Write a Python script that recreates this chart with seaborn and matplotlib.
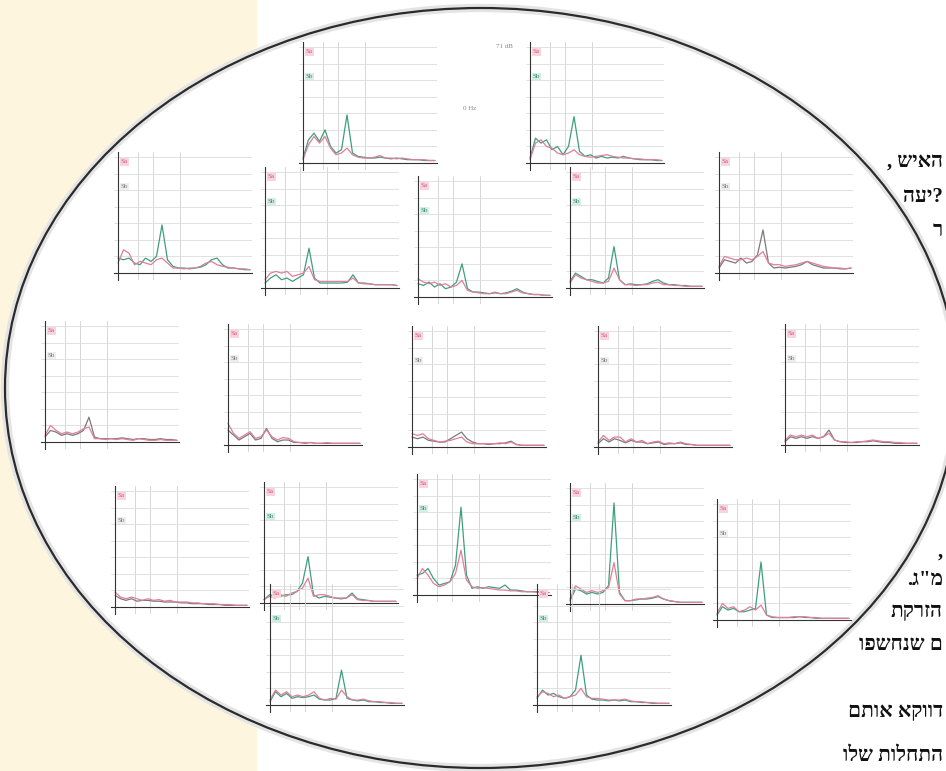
import matplotlib.pyplot as plt
import matplotlib.patches as mpatches
import seaborn as sns

# frequency bins (Hz) shared by all the small spectra
FREQ = [0, 1.25, 2.5, 3.75, 5, 6.25, 7.5, 8.75, 10, 11.25, 12.5, 13.75, 15,
        16.25, 17.5, 18.75, 20, 21.25, 22.5, 23.75, 25, 26.25, 27.5, 28.75, 30]

# one pair of spectra (Sa, Sb) per small chart
A_SA = [0.2, 1.1, 1.6, 1.2, 1.6, 0.9, 0.5, 0.6, 0.9, 0.5, 0.35, 0.3, 0.3, 0.35, 0.45, 0.3, 0.3, 0.25, 0.3, 0.25, 0.2, 0.2, 0.2, 0.15, 0.15]
A_SB = [0.3, 1.4, 1.8, 1.3, 2.0, 1.0, 0.6, 0.8, 2.9, 0.6, 0.4, 0.35, 0.3, 0.3, 0.35, 0.3, 0.25, 0.3, 0.25, 0.2, 0.2, 0.2, 0.15, 0.15, 0.15]
B_SA = [0.2, 1.2, 1.4, 1.0, 0.9, 0.6, 0.5, 0.6, 0.8, 0.5, 0.4, 0.35, 0.4, 0.45, 0.5, 0.4, 0.35, 0.3, 0.3, 0.25, 0.25, 0.2, 0.2, 0.2, 0.15]
B_SB = [0.3, 1.5, 1.2, 1.4, 0.8, 1.0, 0.5, 1.0, 2.8, 0.7, 0.4, 0.5, 0.3, 0.4, 0.3, 0.35, 0.3, 0.4, 0.3, 0.25, 0.2, 0.2, 0.2, 0.15, 0.15]
C_SA = [0.6, 1.4, 1.2, 0.5, 0.7, 0.6, 0.5, 0.8, 0.9, 0.6, 0.3, 0.3, 0.25, 0.3, 0.3, 0.4, 0.6, 0.7, 0.5, 0.4, 0.35, 0.3, 0.25, 0.25, 0.2]
C_SB = [0.9, 0.8, 0.9, 0.6, 0.5, 0.9, 0.7, 1.0, 2.9, 0.8, 0.4, 0.3, 0.3, 0.25, 0.3, 0.35, 0.5, 0.8, 0.9, 0.5, 0.3, 0.3, 0.25, 0.2, 0.2]
D_SA = [0.5, 0.9, 1.0, 0.9, 1.0, 0.7, 0.8, 0.9, 1.3, 0.5, 0.4, 0.4, 0.4, 0.4, 0.4, 0.4, 0.6, 0.3, 0.25, 0.25, 0.2, 0.2, 0.2, 0.2, 0.15]
D_SB = [0.3, 0.6, 0.8, 0.5, 0.6, 0.4, 0.6, 0.8, 2.4, 0.6, 0.3, 0.3, 0.3, 0.3, 0.3, 0.35, 0.8, 0.3, 0.3, 0.25, 0.2, 0.2, 0.2, 0.2, 0.15]
E_SA = [1.1, 0.9, 0.8, 0.9, 0.7, 0.8, 0.6, 0.7, 1.0, 0.4, 0.3, 0.25, 0.2, 0.2, 0.3, 0.2, 0.2, 0.3, 0.4, 0.25, 0.2, 0.15, 0.15, 0.1, 0.1]
E_SB = [0.8, 0.7, 0.9, 0.6, 0.8, 0.5, 0.6, 0.9, 2.0, 0.5, 0.3, 0.3, 0.25, 0.2, 0.25, 0.2, 0.25, 0.35, 0.5, 0.3, 0.2, 0.15, 0.15, 0.1, 0.1]
F_SA = [0.3, 0.8, 0.6, 0.5, 0.4, 0.3, 0.3, 0.4, 1.2, 0.5, 0.2, 0.2, 0.15, 0.2, 0.2, 0.3, 0.35, 0.2, 0.2, 0.15, 0.15, 0.1, 0.1, 0.1, 0.1]
F_SB = [0.4, 0.9, 0.7, 0.5, 0.5, 0.4, 0.3, 0.6, 2.5, 0.5, 0.2, 0.25, 0.2, 0.2, 0.25, 0.4, 0.5, 0.3, 0.2, 0.2, 0.15, 0.15, 0.1, 0.1, 0.1]
G_SA = [0.4, 1.0, 0.9, 0.8, 0.8, 0.9, 0.8, 1.0, 1.3, 0.6, 0.5, 0.5, 0.4, 0.45, 0.5, 0.6, 0.7, 0.6, 0.5, 0.4, 0.35, 0.3, 0.3, 0.25, 0.3]
G_SB = [0.3, 0.8, 0.7, 0.6, 0.9, 0.6, 0.7, 1.1, 2.6, 0.6, 0.3, 0.35, 0.3, 0.35, 0.4, 0.5, 0.7, 0.5, 0.4, 0.3, 0.3, 0.3, 0.25, 0.25, 0.3]
H_SA = [0.4, 1.0, 0.7, 0.5, 0.6, 0.5, 0.6, 0.8, 0.9, 0.2, 0.2, 0.15, 0.2, 0.15, 0.2, 0.15, 0.1, 0.2, 0.15, 0.1, 0.1, 0.15, 0.1, 0.1, 0.1]
H_SB = [0.3, 0.7, 0.6, 0.4, 0.5, 0.4, 0.5, 0.7, 1.5, 0.3, 0.2, 0.2, 0.2, 0.2, 0.25, 0.2, 0.15, 0.2, 0.2, 0.15, 0.15, 0.2, 0.15, 0.15, 0.1]
I_SA = [1.3, 0.7, 0.4, 0.6, 0.8, 0.4, 0.5, 0.9, 0.5, 0.3, 0.45, 0.4, 0.2, 0.15, 0.15, 0.15, 0.1, 0.1, 0.15, 0.1, 0.1, 0.1, 0.1, 0.1, 0.1]
I_SB = [0.9, 0.6, 0.3, 0.5, 0.7, 0.3, 0.4, 1.0, 0.4, 0.2, 0.3, 0.3, 0.15, 0.15, 0.1, 0.15, 0.1, 0.1, 0.1, 0.1, 0.1, 0.1, 0.1, 0.1, 0.1]
J_SA = [0.8, 0.7, 0.8, 0.5, 0.4, 0.3, 0.35, 0.4, 0.5, 0.6, 0.3, 0.2, 0.2, 0.2, 0.2, 0.2, 0.25, 0.2, 0.3, 0.15, 0.1, 0.1, 0.1, 0.1, 0.1]
J_SB = [0.6, 0.5, 0.6, 0.4, 0.35, 0.3, 0.3, 0.5, 0.7, 0.9, 0.5, 0.3, 0.2, 0.2, 0.15, 0.2, 0.2, 0.25, 0.35, 0.15, 0.1, 0.1, 0.1, 0.1, 0.1]
K_SA = [0.3, 0.7, 0.4, 0.6, 0.6, 0.3, 0.5, 0.3, 0.4, 0.2, 0.3, 0.35, 0.2, 0.25, 0.2, 0.3, 0.2, 0.15, 0.1, 0.1, 0.1, 0.1, 0.1, 0.1, 0.1]
K_SB = [0.2, 0.5, 0.3, 0.5, 0.4, 0.25, 0.4, 0.3, 0.3, 0.2, 0.25, 0.3, 0.15, 0.2, 0.2, 0.25, 0.15, 0.15, 0.1, 0.1, 0.1, 0.1, 0.1, 0.1, 0.1]
L_SA = [0.3, 0.6, 0.5, 0.6, 0.5, 0.6, 0.4, 0.5, 0.7, 0.3, 0.2, 0.2, 0.15, 0.2, 0.2, 0.25, 0.3, 0.25, 0.2, 0.2, 0.15, 0.15, 0.1, 0.1, 0.1]
L_SB = [0.2, 0.5, 0.4, 0.5, 0.4, 0.5, 0.4, 0.5, 0.9, 0.3, 0.2, 0.15, 0.15, 0.15, 0.2, 0.2, 0.25, 0.2, 0.15, 0.15, 0.1, 0.1, 0.1, 0.1, 0.1]
M_SA = [0.9, 0.6, 0.5, 0.6, 0.5, 0.4, 0.5, 0.4, 0.45, 0.35, 0.4, 0.3, 0.3, 0.3, 0.25, 0.25, 0.2, 0.2, 0.2, 0.15, 0.15, 0.15, 0.1, 0.1, 0.1]
M_SB = [0.7, 0.5, 0.4, 0.5, 0.35, 0.4, 0.4, 0.35, 0.35, 0.3, 0.3, 0.3, 0.25, 0.25, 0.2, 0.2, 0.2, 0.15, 0.15, 0.15, 0.1, 0.1, 0.1, 0.1, 0.1]
N_SA = [0.2, 0.4, 0.3, 0.5, 0.4, 0.6, 0.7, 0.9, 1.5, 0.4, 0.5, 0.5, 0.4, 0.3, 0.3, 0.3, 0.5, 0.2, 0.15, 0.15, 0.1, 0.1, 0.1, 0.1, 0.1]
N_SB = [0.2, 0.5, 0.4, 0.4, 0.5, 0.5, 0.7, 1.2, 2.8, 0.5, 0.3, 0.4, 0.35, 0.3, 0.25, 0.3, 0.6, 0.25, 0.2, 0.15, 0.1, 0.1, 0.1, 0.1, 0.1]
O_SA = [1.0, 1.6, 1.2, 0.7, 0.5, 0.6, 0.8, 1.3, 2.7, 0.9, 0.5, 0.4, 0.45, 0.4, 0.35, 0.3, 0.3, 0.25, 0.25, 0.2, 0.2, 0.2, 0.15, 0.15, 0.15]
O_SB = [1.2, 1.3, 1.6, 1.0, 0.6, 0.7, 0.8, 1.8, 5.3, 1.2, 0.4, 0.5, 0.4, 0.5, 0.45, 0.4, 0.6, 0.3, 0.3, 0.25, 0.2, 0.2, 0.2, 0.15, 0.15]
P_SA = [0.3, 1.1, 0.9, 0.7, 0.8, 0.7, 0.8, 1.0, 2.5, 0.6, 0.2, 0.2, 0.3, 0.3, 0.35, 0.4, 0.5, 0.3, 0.2, 0.15, 0.1, 0.1, 0.1, 0.1, 0.1]
P_SB = [0.2, 0.9, 0.8, 0.6, 0.7, 0.6, 0.7, 1.1, 6.1, 0.7, 0.2, 0.2, 0.25, 0.3, 0.3, 0.35, 0.45, 0.3, 0.2, 0.15, 0.1, 0.1, 0.1, 0.1, 0.1]
Q_SA = [0.4, 1.0, 0.7, 0.8, 0.5, 0.6, 0.8, 0.6, 0.9, 0.3, 0.2, 0.15, 0.15, 0.15, 0.2, 0.2, 0.2, 0.15, 0.15, 0.1, 0.1, 0.1, 0.1, 0.1, 0.1]
Q_SB = [0.3, 0.8, 0.6, 0.7, 0.5, 0.5, 0.6, 0.7, 3.5, 0.3, 0.15, 0.15, 0.15, 0.15, 0.15, 0.2, 0.15, 0.15, 0.1, 0.1, 0.1, 0.1, 0.1, 0.1, 0.1]
R_SA = [0.3, 0.9, 0.6, 0.8, 0.5, 0.6, 0.5, 0.6, 0.8, 0.4, 0.3, 0.4, 0.35, 0.9, 0.5, 0.3, 0.3, 0.35, 0.25, 0.2, 0.2, 0.15, 0.15, 0.1, 0.1]
R_SB = [0.2, 0.8, 0.5, 0.7, 0.4, 0.5, 0.45, 0.5, 0.6, 0.35, 0.3, 0.3, 0.4, 2.1, 0.4, 0.3, 0.25, 0.3, 0.2, 0.2, 0.15, 0.15, 0.1, 0.1, 0.1]
S_SA = [0.5, 0.8, 0.7, 0.5, 0.6, 0.4, 0.5, 0.6, 1.0, 0.5, 0.4, 0.4, 0.35, 0.3, 0.3, 0.3, 0.35, 0.25, 0.2, 0.2, 0.15, 0.15, 0.1, 0.1, 0.1]
S_SB = [0.4, 0.9, 0.6, 0.7, 0.5, 0.4, 0.5, 0.9, 3.0, 0.6, 0.35, 0.3, 0.3, 0.25, 0.3, 0.25, 0.3, 0.2, 0.2, 0.15, 0.15, 0.1, 0.1, 0.1, 0.1]

SA_LABEL = "Sa"
SB_LABEL = "Sb"

# Hebrew column on the right, lines given in visual (left-to-right) order
HEB_TOP = [", " + "האיש"[::-1], "יעה"[::-1] + "?", "ר"]
HEB_TOP_Y = [163, 197, 231]
HEB_BOTTOM = [",", '.ג"מ', "הזרקת"[::-1], "ם שנחשפו"[::-1], "דווקא אותם"[::-1], "התחלות שלו"[::-1]]
HEB_BOTTOM_Y = [552, 580, 612, 645, 712, 756]

PINK = "#e07f98"
TEAL = "#3f9e80"
GREY = "#7a7a7a"
BEIGE = "#fdf5de"

# (Sa, Sb, y-axis x px, baseline y px, Sb line colour, Sb label style)
LAYOUT = [
    (A_SA, A_SB, 303, 163, TEAL, "g"), (B_SA, B_SB, 530, 163, TEAL, "g"),
    (C_SA, C_SB, 118, 273, TEAL, "k"), (D_SA, D_SB, 265, 288, TEAL, "g"),
    (E_SA, E_SB, 418, 297, TEAL, "g"), (F_SA, F_SB, 570, 288, TEAL, "g"),
    (G_SA, G_SB, 719, 273, GREY, "k"),
    (H_SA, H_SB, 45, 442, GREY, "k"), (I_SA, I_SB, 228, 445, GREY, "k"),
    (J_SA, J_SB, 412, 447, GREY, "k"), (K_SA, K_SB, 598, 447, GREY, "k"),
    (L_SA, L_SB, 785, 445, GREY, "k"),
    (M_SA, M_SB, 115, 607, GREY, "k"), (N_SA, N_SB, 264, 603, TEAL, "g"),
    (O_SA, O_SB, 417, 595, TEAL, "g"), (P_SA, P_SB, 570, 604, TEAL, "g"),
    (Q_SA, Q_SB, 717, 620, TEAL, "k"),
    (R_SA, R_SB, 270, 705, TEAL, "g"), (S_SA, S_SB, 537, 705, TEAL, "g"),
]

W, H = 946, 771

sns.set_style("white")
plt.rcParams["font.family"] = ["Liberation Serif", "DejaVu Sans"]

fig = plt.figure(figsize=(W / 100, H / 100), dpi=100)
fig.patch.set_facecolor("white")

# page background: cream strip, Hebrew text and the oval
bg = fig.add_axes([0, 0, 1, 1])
bg.set_xlim(0, W)
bg.set_ylim(H, 0)
bg.axis("off")
bg.add_patch(mpatches.Rectangle((0, 0), 256, H, color=BEIGE, zorder=0))
for line, y in zip(HEB_TOP + HEB_BOTTOM, HEB_TOP_Y + HEB_BOTTOM_Y):
    bg.text(943, y, line, ha="right", va="center", fontsize=15,
            fontweight="bold", color="#111111", zorder=1)
bg.add_patch(mpatches.Ellipse((481, 388), 952, 760, fc="white", ec="#e4e4e4",
                              lw=6, zorder=2))
bg.add_patch(mpatches.Ellipse((481, 388), 952, 760, fc="none", ec="#2b2b2b",
                              lw=1.6, zorder=3))
bg.text(470, 108, "0 Hz", fontsize=5, color="#888888", ha="center", va="center", zorder=4)
bg.text(513, 47, "71 dB", fontsize=5, color="#888888", ha="right", va="center", zorder=4)

ux, uy = 132 / 30, 116 / 7


def small_spectrum(sa, sb, x0, base, sb_color, style):
    left = x0 - 1.0 * ux
    bottom = base + 0.45 * uy
    ax = fig.add_axes([left / W, 1 - bottom / H, 31.5 * ux / W, 7.75 * uy / H])
    ax.set_facecolor("none")
    ax.set_xlim(-1, 30.5)
    ax.set_ylim(-0.45, 7.3)

    ax.set_yticks([7])
    ax.set_yticks(range(1, 7), minor=True)
    ax.set_xticks([10, 20, 30])
    ax.set_xticks([4.5, 8, 14], minor=True)
    ax.set_xticklabels([])
    ax.set_yticklabels([])
    ax.tick_params(which="major", direction="inout", length=6, width=0.7, color="#333333")
    ax.tick_params(which="minor", length=0)
    ax.yaxis.grid(True, which="both", color="#dcdcdc", lw=0.6)
    ax.xaxis.grid(True, which="minor", color="#d0d0d0", lw=0.6)
    ax.xaxis.grid(False, which="major")
    for side in ("top", "right"):
        ax.spines[side].set_visible(False)
    for side in ("left", "bottom"):
        ax.spines[side].set_position(("data", 0))
        ax.spines[side].set_color("#333333")
        ax.spines[side].set_linewidth(0.8)

    sns.lineplot(x=FREQ, y=sb, ax=ax, color=sb_color, lw=0.9, legend=False)
    sns.lineplot(x=FREQ, y=sa, ax=ax, color=PINK, lw=0.9, legend=False)
    ax.set_xlabel("")
    ax.set_ylabel("")

    ax.text(0.6, 6.7, SA_LABEL, fontsize=5, color="#d8506f", va="center",
            bbox=dict(fc="#f7d5de", ec="none", pad=0.8))
    if style == "g":
        ax.text(0.6, 5.2, SB_LABEL, fontsize=5, color="#3a8a6a", va="center",
                bbox=dict(fc="#d5eee3", ec="none", pad=0.8))
    else:
        ax.text(0.6, 5.2, SB_LABEL, fontsize=5, color="#777777", va="center",
                bbox=dict(fc="#eeeeee", ec="none", pad=0.8))


for sa, sb, x0, base, col, style in LAYOUT:
    small_spectrum(sa, sb, x0, base, col, style)

fig.savefig("out.png", dpi=100)
